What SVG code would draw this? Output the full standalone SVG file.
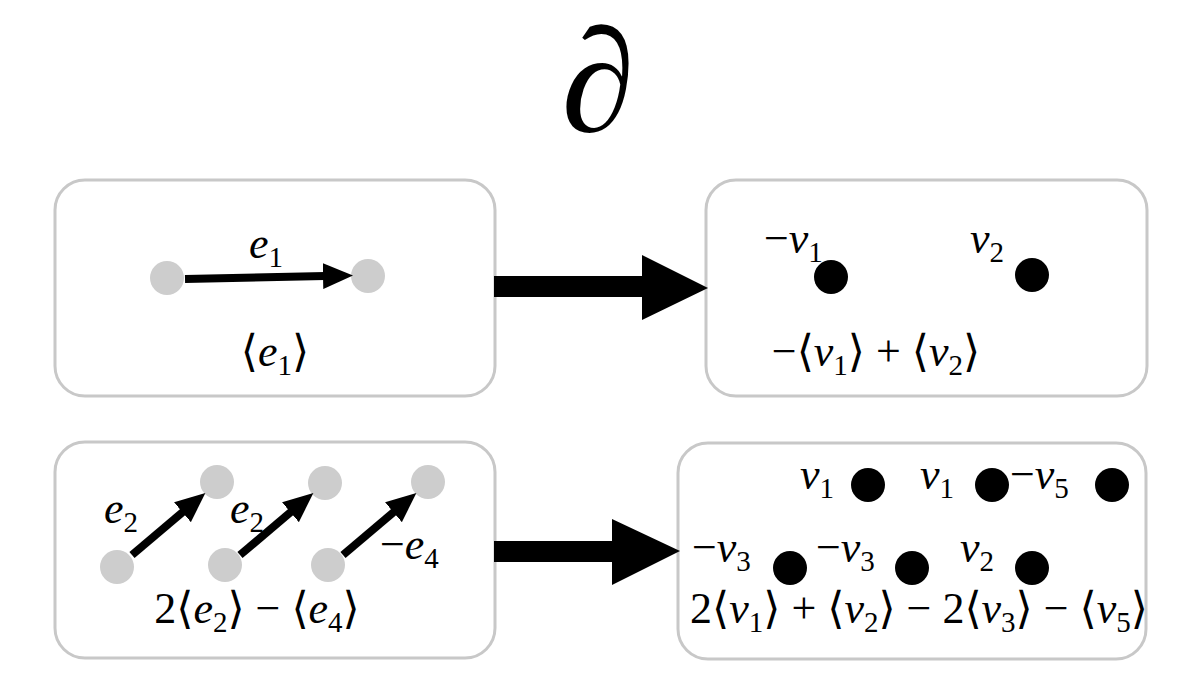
<svg xmlns="http://www.w3.org/2000/svg" width="1200" height="675" viewBox="0 0 1200 675" font-family="Liberation Serif, DejaVu Serif, serif">
<defs>
<style>
.box{fill:#fff;stroke:#c8c8c8;stroke-width:3}
.gv{fill:#cdcdcd}
.bv{fill:#000}
.edge{stroke:#000;stroke-width:8;fill:none}
.big{fill:#000}
text{font-size:44px;fill:#000}
.it{font-style:italic}
.sub{font-size:29px;font-style:normal}
</style>
<marker id="ah" markerUnits="userSpaceOnUse" markerWidth="30" markerHeight="26" viewBox="0 0 30 26" refX="2" refY="13" orient="auto">
<path d="M0,0 L30,13 L0,26 Z" fill="#000"/>
</marker>
</defs>
<rect width="1200" height="675" fill="#fff"/>
<text id="title" x="598" y="131" text-anchor="middle" font-style="italic" style="font-size:148px">∂</text>

<g id="box-e1">
<rect class="box" x="55" y="180" width="440" height="216" rx="30"/>
<circle class="gv" cx="167" cy="278" r="17"/>
<circle class="gv" cx="368" cy="276" r="17"/>
<text x="266" y="258" text-anchor="middle"><tspan class="it">e</tspan><tspan class="sub" dy="9">1</tspan></text>
<text x="275" y="366" text-anchor="middle">⟨<tspan class="it">e</tspan><tspan class="sub" dy="9">1</tspan><tspan dy="-9">⟩</tspan></text>
</g>

<g id="box-v12">
<rect class="box" x="706" y="180" width="441" height="216" rx="30"/>
<circle class="bv" cx="831" cy="277" r="17"/>
<circle class="bv" cx="1032" cy="275" r="17"/>
<text x="764" y="253">−<tspan class="it">v</tspan><tspan class="sub" dy="9">1</tspan></text>
<text x="970" y="253"><tspan class="it">v</tspan><tspan class="sub" dy="9">2</tspan></text>
<text x="876" y="366" text-anchor="middle">−⟨<tspan class="it">v</tspan><tspan class="sub" dy="9">1</tspan><tspan dy="-9">⟩ + ⟨</tspan><tspan class="it">v</tspan><tspan class="sub" dy="9">2</tspan><tspan dy="-9">⟩</tspan></text>
</g>

<g id="box-e24">
<rect class="box" x="55" y="442" width="440" height="216" rx="30"/>
<circle class="gv" cx="117" cy="567" r="17"/>
<circle class="gv" cx="217" cy="482" r="17"/>
<circle class="gv" cx="225" cy="565" r="17"/>
<circle class="gv" cx="325" cy="483" r="17"/>
<circle class="gv" cx="328" cy="565" r="17"/>
<circle class="gv" cx="428" cy="482" r="17"/>
<text x="104" y="523"><tspan class="it">e</tspan><tspan class="sub" dy="9">2</tspan></text>
<text x="230" y="523"><tspan class="it">e</tspan><tspan class="sub" dy="9">2</tspan></text>
<text x="380" y="559">−<tspan class="it">e</tspan><tspan class="sub" dy="9">4</tspan></text>
<text x="257" y="623" text-anchor="middle">2⟨<tspan class="it">e</tspan><tspan class="sub" dy="9">2</tspan><tspan dy="-9">⟩ − ⟨</tspan><tspan class="it">e</tspan><tspan class="sub" dy="9">4</tspan><tspan dy="-9">⟩</tspan></text>
</g>

<g id="box-v1235">
<rect class="box" x="678" y="443" width="468" height="216" rx="30"/>
<circle class="bv" cx="868" cy="485" r="17"/>
<circle class="bv" cx="992" cy="485" r="17"/>
<circle class="bv" cx="1112" cy="485" r="17"/>
<circle class="bv" cx="790" cy="568" r="17"/>
<circle class="bv" cx="912" cy="568" r="17"/>
<circle class="bv" cx="1032" cy="568" r="17"/>
<text x="800" y="489"><tspan class="it">v</tspan><tspan class="sub" dy="9">1</tspan></text>
<text x="920" y="489"><tspan class="it">v</tspan><tspan class="sub" dy="9">1</tspan></text>
<text x="1010" y="489">−<tspan class="it">v</tspan><tspan class="sub" dy="9">5</tspan></text>
<text x="692" y="562">−<tspan class="it">v</tspan><tspan class="sub" dy="9">3</tspan></text>
<text x="816" y="562">−<tspan class="it">v</tspan><tspan class="sub" dy="9">3</tspan></text>
<text x="960" y="562"><tspan class="it">v</tspan><tspan class="sub" dy="9">2</tspan></text>
<text x="919" y="623" text-anchor="middle">2⟨<tspan class="it">v</tspan><tspan class="sub" dy="9">1</tspan><tspan dy="-9">⟩ + ⟨</tspan><tspan class="it">v</tspan><tspan class="sub" dy="9">2</tspan><tspan dy="-9">⟩ − 2⟨</tspan><tspan class="it">v</tspan><tspan class="sub" dy="9">3</tspan><tspan dy="-9">⟩ − ⟨</tspan><tspan class="it">v</tspan><tspan class="sub" dy="9">5</tspan><tspan dy="-9">⟩</tspan></text>
</g>

<g id="connectors">
<line class="edge" x1="185" y1="279" x2="325" y2="276" marker-end="url(#ah)"/>
<line class="edge" x1="132" y1="555" x2="184" y2="511" marker-end="url(#ah)"/>
<line class="edge" x1="240" y1="555" x2="292" y2="511" marker-end="url(#ah)"/>
<line class="edge" x1="343" y1="555" x2="395" y2="511" marker-end="url(#ah)"/>
<polygon class="big" points="494,276 642,276 642,255 708,288 642,320 642,297 494,297"/>
<polygon class="big" points="494,541 612,541 612,519 680,551 612,585 612,562 494,562"/>
</g>
</svg>
